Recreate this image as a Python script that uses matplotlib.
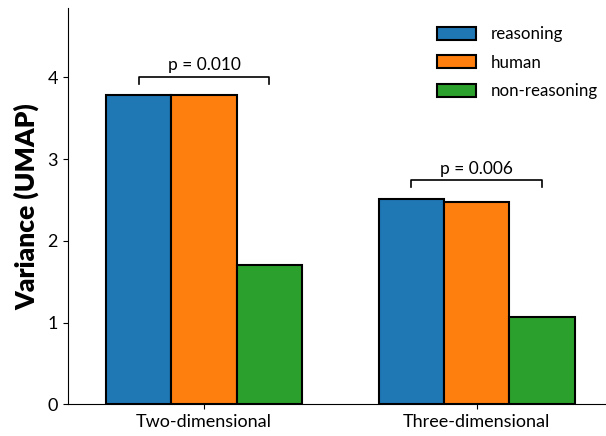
import numpy as np
import matplotlib.pyplot as plt

plt.rcParams['font.family'] = ['Lato', 'DejaVu Sans']

groups = ["Two-dimensional", "Three-dimensional"]
series = ["reasoning", "human", "non-reasoning"]
reasoning = [3.78, 2.51]
human = [3.78, 2.48]
non_reasoning = [1.71, 1.07]
p_labels = ["p = 0.010", "p = 0.006"]
colors = ["#1f77b4", "#ff7f0e", "#2ca02c"]

fig = plt.figure(figsize=(6.06, 4.36), dpi=100)
ax = fig.add_axes([67.7 / 606, (436 - 404.3) / 436, (606 - 67.7) / 606, (404.3 - 8) / 436])

x = np.arange(len(groups))
w = 0.24
for i, (vals, name) in enumerate(zip([reasoning, human, non_reasoning], series)):
    ax.bar(x + (i - 1) * w, vals, w, color=colors[i], edgecolor="black",
           linewidth=1.5, label=name)

# significance brackets between reasoning and non-reasoning
for xi, top, lab in zip(x, reasoning, p_labels):
    y = top + 0.23
    x1, x2 = xi - w, xi + w
    ax.plot([x1, x1, x2, x2], [y - 0.085, y, y, y - 0.085], color="black", lw=1.2)
    ax.text(xi, y + 0.04, lab, ha="center", va="bottom", fontsize=12.5)

ax.set_xlim(-0.5, 1.474)
ax.set_ylim(0, 4.85)
ax.set_xticks(x)
ax.set_xticklabels(groups, fontsize=13)
ax.set_yticks([0, 1, 2, 3, 4])
ax.tick_params(axis="y", labelsize=13)
ax.set_ylabel("Variance (UMAP)", fontsize=19, fontweight="heavy", labelpad=6)
ax.spines["top"].set_visible(False)
ax.spines["right"].set_visible(False)
ax.legend(frameon=False, fontsize=12.2, handlelength=2.3, handleheight=0.8,
          handletextpad=0.9, labelspacing=0.75,
          loc="upper right", bbox_to_anchor=(1.014, 0.993))

fig.savefig("out.png", dpi=100)
